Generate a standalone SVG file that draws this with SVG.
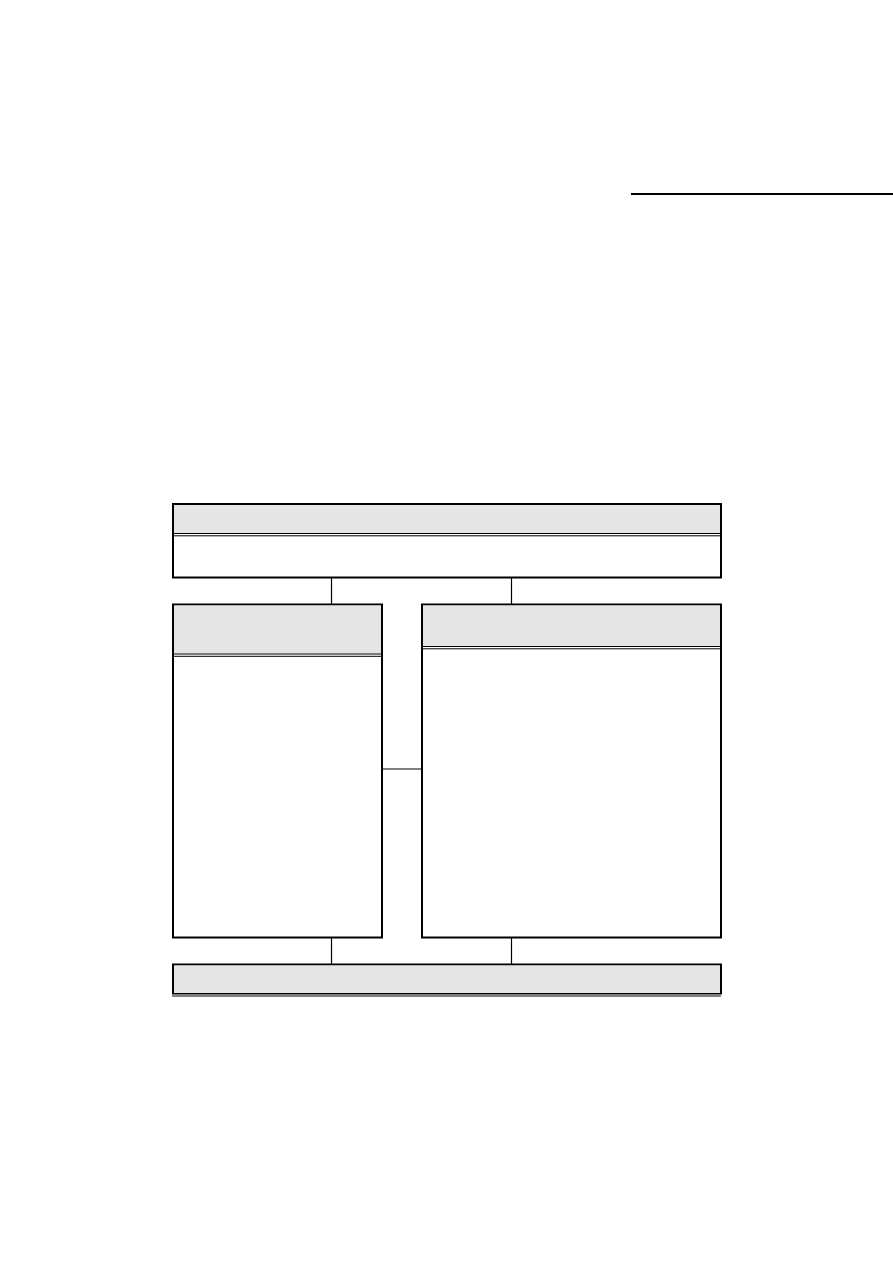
<svg xmlns="http://www.w3.org/2000/svg" width="893" height="1263" viewBox="0 0 893 1263">
<style>
.box{fill:#ffffff;stroke:#000000;stroke-width:2}
.hdr{fill:#e5e5e5;stroke:none}
.dbl{stroke:#000000;stroke-width:1;fill:none}
.conn{stroke:#000000;stroke-width:1.2;fill:none}
</style>
<rect x="0" y="0" width="893" height="1263" fill="#ffffff"/>
<line x1="631" y1="194" x2="893" y2="194" stroke="#000000" stroke-width="2.2"/>
<g id="connectors">
<line class="conn" x1="331.5" y1="578" x2="331.5" y2="604"/>
<line class="conn" x1="511.5" y1="578" x2="511.5" y2="604"/>
<line class="conn" x1="331.5" y1="938" x2="331.5" y2="964"/>
<line class="conn" x1="511.5" y1="938" x2="511.5" y2="964"/>
<line class="conn" x1="382" y1="769" x2="422" y2="769"/>
</g>
<g id="top-box">
<rect class="box" x="173" y="504" width="548" height="73.5"/>
<rect class="hdr" x="174" y="505" width="546" height="28.5"/>
<line class="dbl" x1="174" y1="533.5" x2="720" y2="533.5"/>
<line class="dbl" x1="174" y1="535.8" x2="720" y2="535.8"/>
</g>
<g id="left-box">
<rect class="box" x="173" y="604.5" width="209" height="333"/>
<rect class="hdr" x="174" y="605.5" width="207" height="48"/>
<line class="dbl" x1="174" y1="654" x2="381" y2="654"/>
<line class="dbl" x1="174" y1="656.3" x2="381" y2="656.3"/>
</g>
<g id="right-box">
<rect class="box" x="422" y="604.5" width="299" height="333"/>
<rect class="hdr" x="423" y="605.5" width="297" height="40.5"/>
<line class="dbl" x1="423" y1="646.5" x2="720" y2="646.5"/>
<line class="dbl" x1="423" y1="648.8" x2="720" y2="648.8"/>
</g>
<g id="bottom-box">
<rect class="box" x="173" y="964.5" width="548" height="29"/>
<rect class="hdr" x="174" y="965.5" width="546" height="27.5"/>
<line class="dbl" x1="172" y1="996" x2="721" y2="996"/>
</g>
</svg>
